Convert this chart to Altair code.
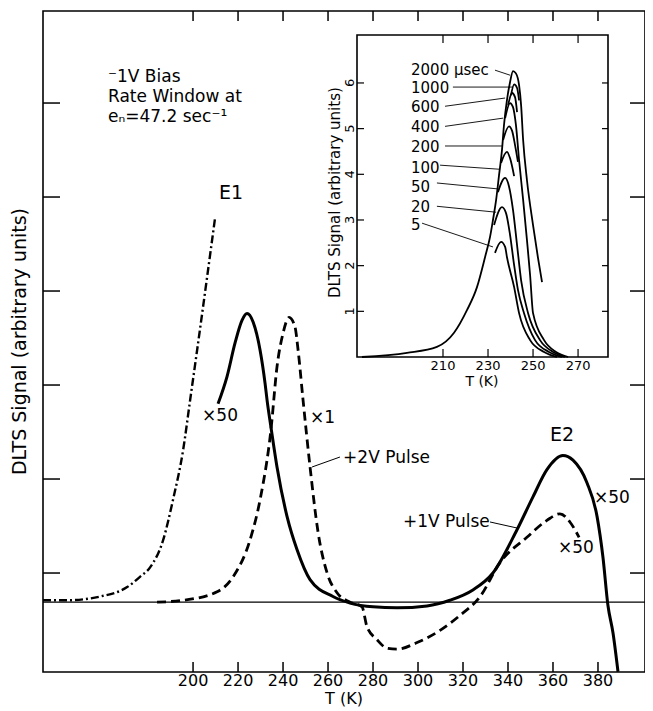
import altair as alt
import pandas as pd

FONT = "DejaVu Sans"

# ---------------- main panel ----------------
MAIN_X_DOMAIN = [133.3, 400.9]
MAIN_Y_DOMAIN = [-0.053, 6.979]
MAIN_X_TICKS = [200, 220, 240, 260, 280, 300, 320, 340, 360, 380]
MAIN_Y_TICKS = [1, 2, 3, 4, 5, 6]
MAIN_X_TITLE = "T (K)"
MAIN_Y_TITLE = "DLTS Signal (arbitrary units)"

DASHDOT_T = [133.3, 144.0, 158.7, 170.7, 176.4, 180.9, 186.7, 191.1, 195.6, 198.7, 201.8, 209.8]
DASHDOT_S = [0.71, 0.71, 0.75, 0.85, 0.96, 1.06, 1.35, 1.78, 2.31, 2.84, 3.37, 4.78]

SOLID_T = [211.1, 215.1, 218.7, 221.8, 224.0, 226.7, 229.8, 232.0, 232.9, 234.7, 237.3, 241.8,
           246.2, 252.0, 262.2, 269.8, 280.0, 290.7, 304.0, 314.2, 324.4, 333.3, 344.0, 351.1,
           357.3, 364.4, 368.9, 375.1, 379.6, 382.2, 384.4, 386.7, 388.9]
SOLID_S = [2.80, 3.09, 3.45, 3.69, 3.76, 3.67, 3.37, 3.02, 2.84, 2.54, 2.13, 1.60,
           1.25, 0.93, 0.75, 0.68, 0.64, 0.63, 0.65, 0.71, 0.82, 1.00, 1.46, 1.81,
           2.10, 2.25, 2.20, 1.96, 1.60, 1.17, 0.66, 0.36, -0.05]

DASHED_T = [184.0, 195.6, 210.7, 217.8, 225.3, 229.8, 234.7, 237.3, 240.0, 242.7, 245.3, 246.7,
            248.9, 252.0, 255.6, 259.6, 264.0, 269.8, 275.1, 277.3, 281.8, 286.2, 290.7, 299.6,
            309.8, 318.7, 327.6, 336.4, 348.4, 357.3, 363.1, 367.6, 371.6]
DASHED_S = [0.69, 0.71, 0.80, 0.96, 1.35, 1.78, 2.54, 3.19, 3.55, 3.72, 3.62, 3.37,
            2.84, 2.13, 1.43, 1.00, 0.79, 0.69, 0.64, 0.43, 0.29, 0.20, 0.19, 0.26,
            0.39, 0.55, 0.75, 1.11, 1.38, 1.56, 1.63, 1.54, 1.38]

BASELINE_S = [0.69]

NOTE_TEXT = ["\u207b1V Bias", "Rate Window at", "e\u2099=47.2 sec\u207b\u00b9"]
NOTE_T = [162.2, 162.2, 162.2]
NOTE_S = [6.277, 6.064, 5.851]

PEAK_TEXT = ["E1", "E2"]
PEAK_T = [216.9, 364.0]
PEAK_S = [5.043, 2.468]

SCALE_TEXT = ["\u00d750", "\u00d750", "\u00d750"]
SCALE_T = [212.0, 386.2, 370.2]
SCALE_S = [2.670, 1.798, 1.266]

LEFT_TEXT = ["\u00d71", "+2V Pulse", "+1V Pulse"]
LEFT_T = [252.0, 266.7, 293.3]
LEFT_S = [2.649, 2.223, 1.543]

LEADER_T1 = [252.9, 332.0]
LEADER_S1 = [2.128, 1.543]
LEADER_T2 = [265.3, 344.0]
LEADER_S2 = [2.234, 1.479]

# ---------------- inset ----------------
INSET_X_DOMAIN = [171.8, 283.3]
INSET_Y_DOMAIN = [0.0, 7.05]
INSET_X_RANGE = [314, 565]
INSET_Y_RANGE = [346, 24]
INSET_X_TICKS = [210, 230, 250, 270]
INSET_Y_TICKS = [1, 2, 3, 4, 5, 6]
INSET_X_TITLE = "T (K)"
INSET_Y_TITLE = "DLTS Signal (arbitrary units)"

C2000_T = [174.0, 194.0, 207.3, 214.9, 220.7, 225.1, 228.7, 230.9, 232.2, 233.6, 234.9, 236.2,
           237.1, 238.4, 239.8, 241.1, 242.4, 243.8, 244.7, 245.6, 247.3, 250.0, 252.2, 254.0]
C2000_S = [0.00, 0.09, 0.22, 0.53, 1.03, 1.53, 2.19, 2.63, 3.00, 3.44, 3.98, 4.53,
           5.08, 5.62, 6.02, 6.26, 6.21, 5.95, 5.51, 4.75, 3.87, 2.89, 2.17, 1.64]
C1000_T = [240.2, 241.6, 242.9, 243.8]
C1000_S = [5.73, 5.97, 5.89, 5.62]
C600_T = [238.9, 240.7, 242.0, 242.9]
C600_S = [5.51, 5.78, 5.69, 5.36]
C400_T = [237.6, 239.8, 241.1, 242.4, 243.8, 245.6, 247.3, 248.7, 250.0, 254.9, 260.2, 265.6]
C400_S = [5.23, 5.56, 5.47, 5.08, 4.31, 3.44, 2.56, 1.79, 0.96, 0.37, 0.11, 0.00]
C200_T = [236.7, 239.3, 240.7, 242.0, 243.3]
C200_S = [4.75, 5.05, 4.95, 4.64, 4.27]
C100_T = [235.8, 238.4, 239.8, 241.6]
C100_S = [4.25, 4.49, 4.35, 3.96]
C50_T = [234.4, 237.6, 239.3, 241.1, 242.9, 244.7, 247.8, 253.1, 258.9, 264.2]
C50_S = [3.61, 3.92, 3.74, 3.22, 2.45, 1.68, 0.96, 0.37, 0.11, 0.00]
C20_T = [232.7, 236.2, 238.0, 239.8, 241.6, 243.3, 246.0, 250.9, 257.1, 262.9]
C20_S = [2.89, 3.28, 3.15, 2.67, 2.01, 1.47, 0.96, 0.37, 0.11, 0.00]
C5_T = [233.1, 235.8, 237.6, 238.4, 241.6, 243.8, 248.7, 254.9, 260.7]
C5_S = [2.28, 2.52, 2.41, 2.19, 1.53, 0.96, 0.37, 0.11, 0.00]

RW_TEXT = ["2000 \u03bcsec", "1000", "600", "400", "200", "100", "50", "20", "5"]
RW_T = [195.8] * 9
RW_S = [6.28, 5.89, 5.47, 5.03, 4.60, 4.14, 3.72, 3.28, 2.89]
RW_LEAD_T1 = [233.1, 214.4, 210.9, 210.9, 210.9, 208.7, 207.3, 207.3, 200.7]
RW_LEAD_S1 = [6.28, 5.91, 5.49, 5.05, 4.62, 4.20, 3.81, 3.30, 2.93]
RW_LEAD_T2 = [239.8, 241.1, 237.6, 236.7, 236.2, 235.3, 234.4, 233.6, 232.2]
RW_LEAD_S2 = [6.17, 5.91, 5.67, 5.23, 4.62, 4.11, 3.68, 3.17, 2.41]

W, H = 602, 661

# ---------------- helpers ----------------
xs = alt.Scale(domain=MAIN_X_DOMAIN, nice=False, zero=False)
ys = alt.Scale(domain=MAIN_Y_DOMAIN, nice=False, zero=False)
ixs = alt.Scale(domain=INSET_X_DOMAIN, range=INSET_X_RANGE, nice=False, zero=False)
iys = alt.Scale(domain=INSET_Y_DOMAIN, range=INSET_Y_RANGE, nice=False, zero=False)


def curve(T, S):
    return pd.DataFrame({"T": T, "S": S, "o": list(range(len(T)))})


def line_layer(T, S, xsc, ysc, **mk):
    return alt.Chart(curve(T, S)).mark_line(color="black", interpolate="monotone", clip=True, **mk).encode(
        x=alt.X("T:Q", scale=xsc, axis=None),
        y=alt.Y("S:Q", scale=ysc, axis=None),
        order="o:Q",
    )


def text_layer(texts, T, S, xsc, ysc, **mk):
    return alt.Chart(pd.DataFrame({"t": texts, "T": T, "S": S})).mark_text(
        font=FONT, color="black", baseline="middle", **mk).encode(
        x=alt.X("T:Q", scale=xsc, axis=None), y=alt.Y("S:Q", scale=ysc, axis=None), text="t:N")


def xticks(vals, xsc, ysc, yval, off, sw):
    return alt.Chart(pd.DataFrame({"T": vals})).mark_rule(color="black", strokeWidth=sw, y2Offset=off).encode(
        x=alt.X("T:Q", scale=xsc, axis=None),
        y=alt.YDatum(yval, type="quantitative", scale=ysc, axis=None),
        y2=alt.Y2Datum(yval))


def yticks(vals, xsc, ysc, xval, off, sw):
    return alt.Chart(pd.DataFrame({"S": vals})).mark_rule(color="black", strokeWidth=sw, x2Offset=off).encode(
        y=alt.Y("S:Q", scale=ysc, axis=None),
        x=alt.XDatum(xval, type="quantitative", scale=xsc, axis=None),
        x2=alt.X2Datum(xval))


def xlabels(vals, texts, xsc, ysc, yval, dy, size):
    return alt.Chart(pd.DataFrame({"T": vals, "t": texts})).mark_text(
        font=FONT, fontSize=size, color="black", baseline="middle", align="center", dy=dy).encode(
        x=alt.X("T:Q", scale=xsc, axis=None),
        y=alt.YDatum(yval, type="quantitative", scale=ysc, axis=None), text="t:N")


def ylabels(vals, texts, xsc, ysc, xval, off, size):
    # rotated 270 deg: a negative dy moves the text to the left on screen
    return alt.Chart(pd.DataFrame({"S": vals, "t": texts})).mark_text(
        font=FONT, fontSize=size, color="black", baseline="middle", align="center", dy=off, angle=270).encode(
        y=alt.Y("S:Q", scale=ysc, axis=None),
        x=alt.XDatum(xval, type="quantitative", scale=xsc, axis=None), text="t:N")


# ---------------- main ----------------
baseline = alt.Chart(pd.DataFrame({"S": BASELINE_S})).mark_rule(color="black", strokeWidth=1.2).encode(
    y=alt.Y("S:Q", scale=ys, axis=None))

m_bottom = xticks(MAIN_X_TICKS, xs, ys, MAIN_Y_DOMAIN[0], -10, 1.5)
m_top = xticks(MAIN_X_TICKS, xs, ys, MAIN_Y_DOMAIN[1], 10, 1.5)
m_left = yticks(MAIN_Y_TICKS, xs, ys, MAIN_X_DOMAIN[0], 17, 1.5)
m_right = yticks(MAIN_Y_TICKS, xs, ys, MAIN_X_DOMAIN[1], -15, 1.5)
m_xlab = xlabels(MAIN_X_TICKS, [str(v) for v in MAIN_X_TICKS], xs, ys, MAIN_Y_DOMAIN[0], 9, 16)
m_xtitle = xlabels([sum(MAIN_X_DOMAIN) / 2], [MAIN_X_TITLE], xs, ys, MAIN_Y_DOMAIN[0], 27, 16)
m_ytitle = ylabels([sum(MAIN_Y_DOMAIN) / 2], [MAIN_Y_TITLE], xs, ys, MAIN_X_DOMAIN[0], -23, 19)

dashdot = line_layer(DASHDOT_T, DASHDOT_S, xs, ys, strokeWidth=2.4, strokeDash=[8, 3, 2, 3])
solid = line_layer(SOLID_T, SOLID_S, xs, ys, strokeWidth=3)
dashed = line_layer(DASHED_T, DASHED_S, xs, ys, strokeWidth=2.8, strokeDash=[9, 5])

leaders = alt.Chart(pd.DataFrame({"T1": LEADER_T1, "S1": LEADER_S1, "T2": LEADER_T2, "S2": LEADER_S2})).mark_rule(
    color="black", strokeWidth=1).encode(
    x=alt.X("T1:Q", scale=xs, axis=None), y=alt.Y("S1:Q", scale=ys, axis=None), x2="T2:Q", y2="S2:Q")

notes = text_layer(NOTE_TEXT, NOTE_T, NOTE_S, xs, ys, align="left", fontSize=17)
peaks = text_layer(PEAK_TEXT, PEAK_T, PEAK_S, xs, ys, align="center", fontSize=19)
scales_t = text_layer(SCALE_TEXT, SCALE_T, SCALE_S, xs, ys, align="center", fontSize=17)
left_t = text_layer(LEFT_TEXT, LEFT_T, LEFT_S, xs, ys, align="left", fontSize=17)

main = alt.layer(baseline, m_bottom, m_top, m_left, m_right, m_xlab, m_xtitle, m_ytitle,
                 dashdot, solid, dashed, leaders, notes, peaks, scales_t, left_t)

# ---------------- inset ----------------
box = alt.Chart(pd.DataFrame({"x0": [INSET_X_DOMAIN[0]], "x1": [INSET_X_DOMAIN[1]],
                              "y0": [INSET_Y_DOMAIN[0]], "y1": [INSET_Y_DOMAIN[1]]})).mark_rect(
    fill="white", stroke="black", strokeWidth=1.6).encode(
    x=alt.X("x0:Q", scale=ixs, axis=None), x2="x1:Q",
    y=alt.Y("y0:Q", scale=iys, axis=None), y2="y1:Q")

i_bottom = xticks(INSET_X_TICKS, ixs, iys, INSET_Y_DOMAIN[0], -8, 1.2)
i_top = xticks(INSET_X_TICKS, ixs, iys, INSET_Y_DOMAIN[1], 8, 1.2)
i_left = yticks(INSET_Y_TICKS, ixs, iys, INSET_X_DOMAIN[0], 7, 1.2)
i_right = yticks(INSET_Y_TICKS, ixs, iys, INSET_X_DOMAIN[1], -6, 1.2)
i_xlab = xlabels(INSET_X_TICKS, [str(v) for v in INSET_X_TICKS], ixs, iys, INSET_Y_DOMAIN[0], 9, 13)
i_ylab = ylabels(INSET_Y_TICKS, [str(v) for v in INSET_Y_TICKS], ixs, iys, INSET_X_DOMAIN[0], -7, 13)
i_xtitle = xlabels([227.3], [INSET_X_TITLE], ixs, iys, INSET_Y_DOMAIN[0], 25, 14)
i_ytitle = ylabels([3.6], [INSET_Y_TITLE], ixs, iys, INSET_X_DOMAIN[0], -22, 15)

inset_curves = [line_layer(T, S, ixs, iys, strokeWidth=1.8) for T, S in [
    (C2000_T, C2000_S), (C1000_T, C1000_S), (C600_T, C600_S), (C400_T, C400_S), (C200_T, C200_S),
    (C100_T, C100_S), (C50_T, C50_S), (C20_T, C20_S), (C5_T, C5_S)]]

rw_text = text_layer(RW_TEXT, RW_T, RW_S, ixs, iys, align="left", fontSize=15)
rw_lead = alt.Chart(pd.DataFrame({"T1": RW_LEAD_T1, "S1": RW_LEAD_S1, "T2": RW_LEAD_T2, "S2": RW_LEAD_S2})).mark_rule(
    color="black", strokeWidth=0.9).encode(
    x=alt.X("T1:Q", scale=ixs, axis=None), y=alt.Y("S1:Q", scale=iys, axis=None), x2="T2:Q", y2="S2:Q")

inset = alt.layer(box, i_bottom, i_top, i_left, i_right, i_xlab, i_ylab, i_xtitle, i_ytitle,
                  *inset_curves, rw_lead, rw_text)

chart = alt.layer(main, inset).resolve_scale(x="independent", y="independent").properties(
    width=W, height=H, autosize="none",
    padding={"left": 35, "top": 3, "right": 0, "bottom": 37},
).configure_view(stroke="black", strokeWidth=1.6)

chart.save("out.html", embed_options={"renderer": "svg", "actions": False})
